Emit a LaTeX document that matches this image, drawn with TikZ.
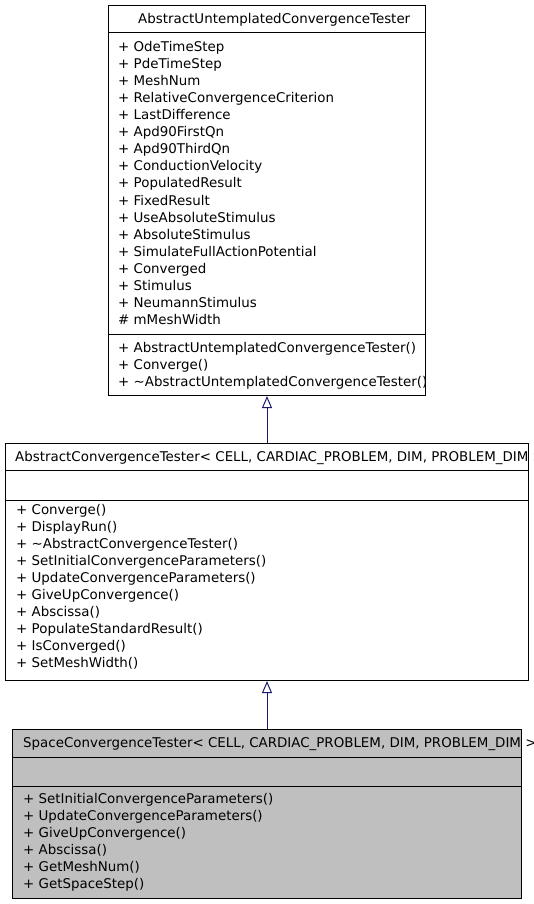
\documentclass[tikz,border=0pt]{standalone}
\usepackage{fontspec}
\setmainfont{DejaVu Sans}
\usetikzlibrary{arrows.meta}
\definecolor{edgeblue}{HTML}{191970}
\definecolor{classgray}{HTML}{BFBFBF}
\begin{document}
\begin{tikzpicture}[x=1pt,y=-1pt,
  classbox/.style={draw=black, line width=1pt, inner sep=0pt, anchor=north west},
  txt/.style={anchor=base west, inner sep=0pt, font=\fontsize{13.4}{15}\selectfont},
  divider/.style={draw=black, line width=1pt},
  inherit/.style={draw=edgeblue, line width=1pt, -{Triangle[open, length=12pt, width=10pt]}}]
\useasboundingbox (0,0) rectangle (533,904);
\clip (0,0) rectangle (533,904);
\fill[white] (0,0) rectangle (533,904);

% Top class
\node[classbox, minimum width=317pt, minimum height=390pt] (top) at (108,5) {};
\draw[divider] (108,33) -- (425,33);
\draw[divider] (108,334) -- (425,334);
\node[txt] (t0) at (138,24) {AbstractUntemplatedConvergenceTester};
\foreach \s [count=\i from 0] in {OdeTimeStep,PdeTimeStep,MeshNum,RelativeConvergenceCriterion,LastDifference,Apd90FirstQn,Apd90ThirdQn,ConductionVelocity,PopulatedResult,FixedResult,UseAbsoluteStimulus,AbsoluteStimulus,SimulateFullActionPotential,Converged,Stimulus,NeumannStimulus}
  \node[txt] (ta\i) at (118,52+17*\i) {+ \s};
\node[txt] (ta16) at (118,324) {\# mMeshWidth};
\node[txt] (tm0) at (118,352) {+ AbstractUntemplatedConvergenceTester()};
\node[txt] (tm1) at (118,369) {+ Converge()};
\node[txt] (tm2) at (118,386) {+ \textasciitilde AbstractUntemplatedConvergenceTester()};

% Middle class
\node[classbox, minimum width=523pt, minimum height=237pt] (mid) at (5,443) {};
\draw[divider] (5,470) -- (528,470);
\draw[divider] (5,500) -- (528,500);
\node[txt] (m0) at (15,461) {AbstractConvergenceTester< CELL, CARDIAC\_PROBLEM, DIM, PROBLEM\_DIM >};
\node[txt] (mm0) at (16,514) {+ Converge()};
\node[txt] (mm1) at (16,531) {+ DisplayRun()};
\node[txt] (mm2) at (16,548) {+ \textasciitilde AbstractConvergenceTester()};
\node[txt] (mm3) at (16,565) {+ SetInitialConvergenceParameters()};
\node[txt] (mm4) at (16,582) {+ UpdateConvergenceParameters()};
\node[txt] (mm5) at (16,599) {+ GiveUpConvergence()};
\node[txt] (mm6) at (16,616) {+ Abscissa()};
\node[txt] (mm7) at (16,633) {+ PopulateStandardResult()};
\node[txt] (mm8) at (16,650) {+ IsConverged()};
\node[txt] (mm9) at (16,667) {+ SetMeshWidth()};

% Bottom class
\node[classbox, fill=classgray, minimum width=509pt, minimum height=169pt] (bot) at (12,729) {};
\draw[divider] (12,757) -- (521,757);
\draw[divider] (12,786) -- (521,786);
\node[txt] (b0) at (23,747) {SpaceConvergenceTester< CELL, CARDIAC\_PROBLEM, DIM, PROBLEM\_DIM >};
\node[txt] (bm0) at (23,803) {+ SetInitialConvergenceParameters()};
\node[txt] (bm1) at (23,820) {+ UpdateConvergenceParameters()};
\node[txt] (bm2) at (23,837) {+ GiveUpConvergence()};
\node[txt] (bm3) at (23,854) {+ Abscissa()};
\node[txt] (bm4) at (23,871) {+ GetMeshNum()};
\node[txt] (bm5) at (23,888) {+ GetSpaceStep()};

% Inheritance
\draw[inherit] (mid.north) -- (top.south);
\draw[inherit] (bot.north) -- (mid.south);
\end{tikzpicture}
\end{document}
